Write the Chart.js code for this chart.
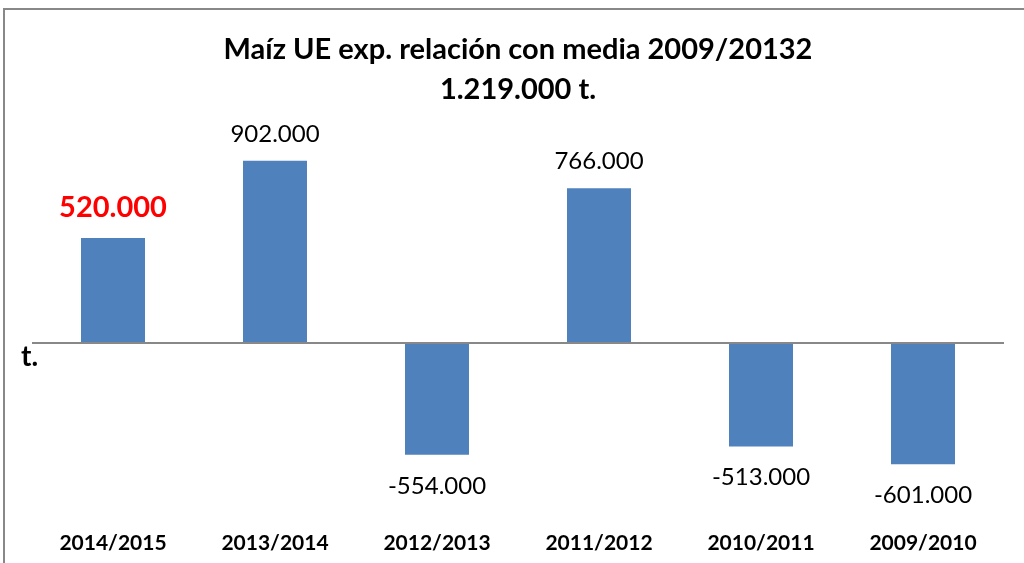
<!DOCTYPE html>
<html>
<head>
<meta charset="utf-8">
<script src="https://cdn.jsdelivr.net/npm/chart.js@4/dist/chart.umd.min.js"></script>
<style>
  html, body { margin: 0; padding: 0; background: #fff; }
  #wrap { width: 1024px; height: 563px; }
</style>
</head>
<body>
<div id="wrap"><canvas id="grafico"></canvas></div>
<script>
// datos (miles de toneladas)
const campanas = ["2014/2015", "2013/2014", "2012/2013", "2011/2012", "2010/2011", "2009/2010"];
const valores = [520, 902, -554, 766, -513, -601];
const titulo = ["Maíz UE exp. relación con media 2009/20132", "1.219.000 t."];
const unidad = "t.";

// formato 520 -> "520.000"
function formatear(v) {
    const n = Math.abs(v) * 1000;
    const s = n.toString().replace(/\B(?=(\d{3})+(?!\d))/g, ".");
    return (v < 0 ? "-" : "") + s;
}

const FUENTE = "Lato, 'Open Sans', sans-serif";

// marco, etiqueta "t." y etiquetas de valores
const extras = {
    id: "extras",
    beforeDraw(chart) {
        const c = chart.ctx;
        c.save();
        c.strokeStyle = "#888888";
        c.lineWidth = 2;
        c.beginPath();
        c.moveTo(4, 563);
        c.lineTo(4, 9);
        c.lineTo(1024, 9);
        c.stroke();
        c.restore();
    },
    afterDatasetsDraw(chart) {
        const c = chart.ctx;
        const y = chart.scales.y;
        const meta = chart.getDatasetMeta(0);
        c.save();
        c.textAlign = "center";
        c.textBaseline = "middle";
        meta.data.forEach((bar, i) => {
            const v = valores[i];
            if (i === 0) {
                c.fillStyle = "#ff0000";
                c.font = "bold 29px " + FUENTE;
            } else {
                c.fillStyle = "#000000";
                c.font = "24px " + FUENTE;
            }
            const off = i === 0 ? 30 : 27;
            const ty = v >= 0 ? bar.y - off : bar.y + 31;
            c.fillText(formatear(v), bar.x, ty);
        });
        // unidad junto al eje cero
        c.fillStyle = "#000000";
        c.font = "bold 28px " + FUENTE;
        c.textAlign = "left";
        c.fillText(unidad, 21, y.getPixelForValue(0) + 14);
        c.restore();
    }
};

new Chart(document.getElementById("grafico").getContext("2d"), {
    type: "bar",
    data: {
        labels: campanas,
        datasets: [{
            data: valores,
            backgroundColor: "#4f81bd",
            borderWidth: 0,
            barPercentage: 0.79,
            categoryPercentage: 0.5
        }]
    },
    options: {
        responsive: true,
        maintainAspectRatio: false,
        animation: false,
        layout: { padding: { left: 32, right: 20, top: 0, bottom: 0 } },
        plugins: {
            legend: { display: false },
            tooltip: { enabled: false },
            title: {
                display: true,
                text: titulo,
                color: "#000",
                font: { family: FUENTE, size: 29, weight: "bold", lineHeight: 1.38 },
                padding: { top: 30, bottom: 31 }
            }
        },
        scales: {
            x: {
                grid: { display: false },
                border: { display: false },
                ticks: {
                    color: "#000",
                    padding: 18,
                    maxRotation: 0,
                    font: { family: FUENTE, size: 21, weight: "bold" }
                },
                afterFit: (scale) => { scale.height = 58.5; }
            },
            y: {
                min: -800,
                max: 1000,
                border: { display: false },
                ticks: { display: false, stepSize: 200 },
                grid: {
                    drawTicks: false,
                    lineWidth: 2,
                    color: (ctx) => ctx.tick && ctx.tick.value === 0 ? "#888888" : "transparent"
                }
            }
        }
    },
    plugins: [extras]
});
</script>
</body>
</html>
